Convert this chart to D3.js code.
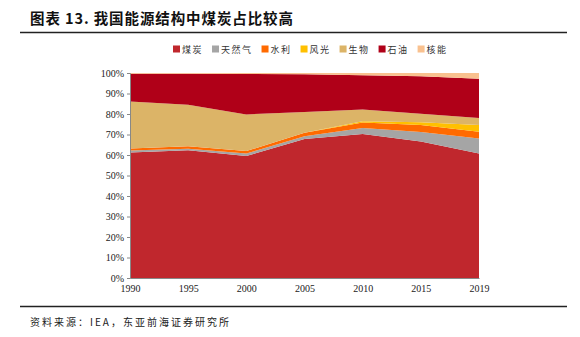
<!DOCTYPE html>
<html lang="zh">
<head>
<meta charset="UTF-8">
<title>图表 13</title>
<script src="https://cdnjs.cloudflare.com/ajax/libs/d3/7.8.5/d3.min.js"></script>
<style>
  body { margin: 0; background: #fff; }
  svg { display: block; }
</style>
</head>
<body>
<div id="chart"></div>
<script>
// 数据 (%)
const years = ['1990', '1995', '2000', '2005', '2010', '2015', '2019'];
const seriesNames = ['煤炭', '天然气', '水利', '风光', '生物', '石油', '核能'];
const coal    = [61.2, 62.3, 59.5, 67.8, 70.2, 66.6, 60.7];
const gas     = [1.0, 0.8, 1.2, 1.4, 3.0, 4.6, 7.3];
const hydro   = [1.0, 1.2, 1.2, 1.6, 2.6, 3.4, 3.3];
const wind    = [0, 0, 0, 0, 0.7, 1.4, 3.3];
const bio     = [22.9, 20.2, 17.9, 10.2, 5.7, 4.1, 3.4];
const oil     = [13.5, 15.1, 19.7, 18.4, 16.7, 18.3, 19.2];
const nuclear = [0.4, 0.4, 0.5, 0.6, 1.1, 1.6, 2.8];
const yTicks = [0, 10, 20, 30, 40, 50, 60, 70, 80, 90, 100];

const colors = ['#c0272d', '#a5a5a5', '#ff6a00', '#ffc000', '#dcb467', '#b00018', '#f9c18f'];
const allSeries = [coal, gas, hydro, wind, bio, oil, nuclear];

// 表格给 d3.stack 用
const table = years.map((y, i) => {
  const row = { year: y };
  seriesNames.forEach((n, k) => { row[n] = allSeries[k][i]; });
  return row;
});

const W = 580, H = 337;
const svg = d3.select('#chart').append('svg')
  .attr('width', W).attr('height', H);

// 标题
svg.append('text')
  .attr('x', 30).attr('y', 24)
  .attr('font-family', '"Noto Sans CJK SC", sans-serif')
  .attr('font-weight', 'bold')
  .attr('font-size', 14.5)
  .attr('letter-spacing', 0.9)
  .attr('fill', '#111')
  .text('图表 13. 我国能源结构中煤炭占比较高');
svg.append('line')
  .attr('x1', 20).attr('x2', 567).attr('y1', 32.5).attr('y2', 32.5)
  .attr('stroke', '#222').attr('stroke-width', 1.5);

// 比例尺
const x = d3.scalePoint().domain(years).range([130, 479]);
const y = d3.scaleLinear().domain([0, 100]).range([278, 73]);

const stack = d3.stack().keys(seriesNames);
const layers = stack(table);

const area = d3.area()
  .x(d => x(d.data.year))
  .y0(d => y(d[0]))
  .y1(d => y(d[1]));

svg.append('g').selectAll('path')
  .data(layers)
  .join('path')
  .attr('d', area)
  .attr('fill', (d, i) => colors[i]);

// 坐标轴
const yAxis = svg.append('g')
  .attr('transform', 'translate(130,0)')
  .call(d3.axisLeft(y).tickValues(yTicks).tickFormat(d => d + '%').tickSize(3).tickPadding(3));
const xAxis = svg.append('g')
  .attr('transform', 'translate(0,278)')
  .call(d3.axisBottom(x).tickSize(0).tickPadding(7));

[yAxis, xAxis].forEach(g => {
  g.select('.domain').attr('stroke', '#888');
  g.selectAll('.tick line').attr('stroke', '#888');
  g.selectAll('text')
    .attr('font-family', '"Liberation Serif", serif')
    .attr('font-size', 10)
    .attr('fill', '#222');
});

// 图例
const legend = svg.append('g')
  .attr('font-family', '"Noto Sans CJK SC", sans-serif')
  .attr('font-size', 9);
let lx = 173;
seriesNames.forEach((n, i) => {
  legend.append('rect')
    .attr('x', lx).attr('y', 45.5)
    .attr('width', 7).attr('height', 7)
    .attr('fill', colors[i]);
  const t = legend.append('text')
    .attr('x', lx + 9).attr('y', 52.5)
    .attr('fill', '#333')
    .attr('letter-spacing', 1.5)
    .text(n);
  lx += 9 + t.node().getComputedTextLength() + 9;
});

// 底部
svg.append('line')
  .attr('x1', 20).attr('x2', 567).attr('y1', 306.5).attr('y2', 306.5)
  .attr('stroke', '#222').attr('stroke-width', 1.5);
svg.append('text')
  .attr('x', 30).attr('y', 326)
  .attr('font-family', '"Noto Sans CJK SC", sans-serif')
  .attr('font-size', 10)
  .attr('letter-spacing', 2)
  .attr('fill', '#222')
  .text('资料来源：IEA，东亚前海证券研究所');
</script>
</body>
</html>
